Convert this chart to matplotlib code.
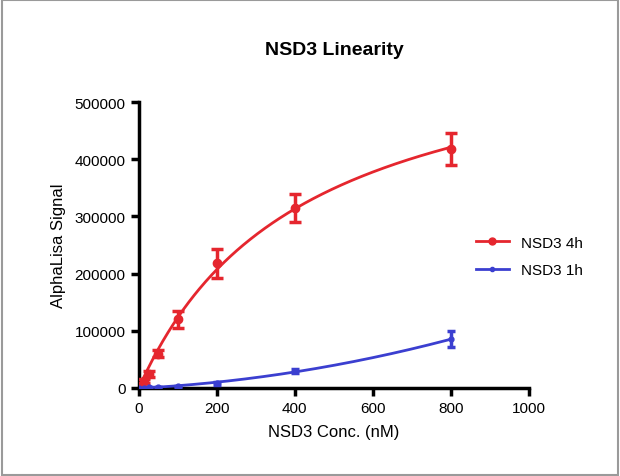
import numpy as np
import matplotlib
matplotlib.use("Agg")
import matplotlib.pyplot as plt

plt.rcParams["font.family"] = ["Liberation Sans", "DejaVu Sans"]

# concentraciones (nM) y señal AlphaLisa
conc_4h = [0, 12.5, 25, 50, 100, 200, 400, 800]
sig_4h = [0, 12000, 25000, 60000, 120000, 218000, 315000, 418000]
err_4h = [0, 3000, 5000, 6000, 15000, 25000, 25000, 28000]

conc_1h = [0, 12.5, 25, 50, 100, 200, 400, 800]
sig_1h = [0, 500, 1000, 1500, 3000, 8000, 30000, 85000]
err_1h = [0, 0, 0, 0, 1000, 2000, 3000, 14000]

RED = "#e5262e"
BLUE = "#3b3fd0"


def fit_hyperbola(x, y):
    """Ajuste tipo Michaelis-Menten: búsqueda en Km, Vmax por mínimos cuadrados."""
    x = np.asarray(x, float)
    y = np.asarray(y, float)
    best = None
    for km in np.linspace(50, 2000, 1951):
        g = x / (km + x)
        vmax = (g @ y) / (g @ g)
        res = np.sum((y - vmax * g) ** 2)
        if best is None or res < best[0]:
            best = (res, km, vmax)
    return best[1], best[2]


fig = plt.figure(figsize=(6.2, 4.77), dpi=100)
ax = fig.add_axes([0.224, 0.1845, 0.629, 0.5995])

xs = np.linspace(0, 800, 300)
km, vmax = fit_hyperbola(conc_4h, sig_4h)
ax.plot(xs, vmax * xs / (km + xs), color=RED, lw=2, zorder=3)
p = np.polyfit(conc_1h, sig_1h, 2)
ax.plot(xs, np.polyval(p, xs), color=BLUE, lw=2, zorder=3)

ax.errorbar(conc_4h, sig_4h, yerr=err_4h, fmt="o", color=RED, ms=6,
            elinewidth=2.5, capsize=4, capthick=2.5, zorder=4)
ax.errorbar(conc_1h, sig_1h, yerr=err_1h, fmt="o", color=BLUE, ms=3.5,
            elinewidth=2.5, capsize=3, capthick=2.5, zorder=4)

ax.set_xlim(0, 1000)
ax.set_ylim(0, 500000)
ax.set_xticks([0, 200, 400, 600, 800, 1000])
ax.set_yticks([0, 100000, 200000, 300000, 400000, 500000])
ax.set_yticklabels(["0", "100000", "200000", "300000", "400000", "500000"])
ax.spines["top"].set_visible(False)
ax.spines["right"].set_visible(False)
for s in ("left", "bottom"):
    ax.spines[s].set_linewidth(2.5)
ax.tick_params(width=2.5, length=6, labelsize=11, direction="out")
ax.set_xlabel("NSD3 Conc. (nM)", fontsize=12, labelpad=6)
ax.set_ylabel("AlphaLisa Signal", fontsize=12, labelpad=6)
fig.text(0.54, 0.895, "NSD3 Linearity", ha="center", va="center",
         fontsize=14, fontweight="bold")

from matplotlib.lines import Line2D
handles = [Line2D([], [], color=RED, lw=2, marker="o", ms=5),
           Line2D([], [], color=BLUE, lw=2, marker="o", ms=3)]
fig.legend(handles, ["NSD3 4h", "NSD3 1h"], loc="center left",
           bbox_to_anchor=(0.745, 0.46), frameon=False, fontsize=11,
           handlelength=2.2, labelspacing=0.9)

fig.patches.append(plt.Rectangle((0.003, 0.003), 0.994, 0.994, transform=fig.transFigure,
                                 fill=False, edgecolor="#9a9a9a", lw=1.5))
fig.savefig("out.png", dpi=100)
